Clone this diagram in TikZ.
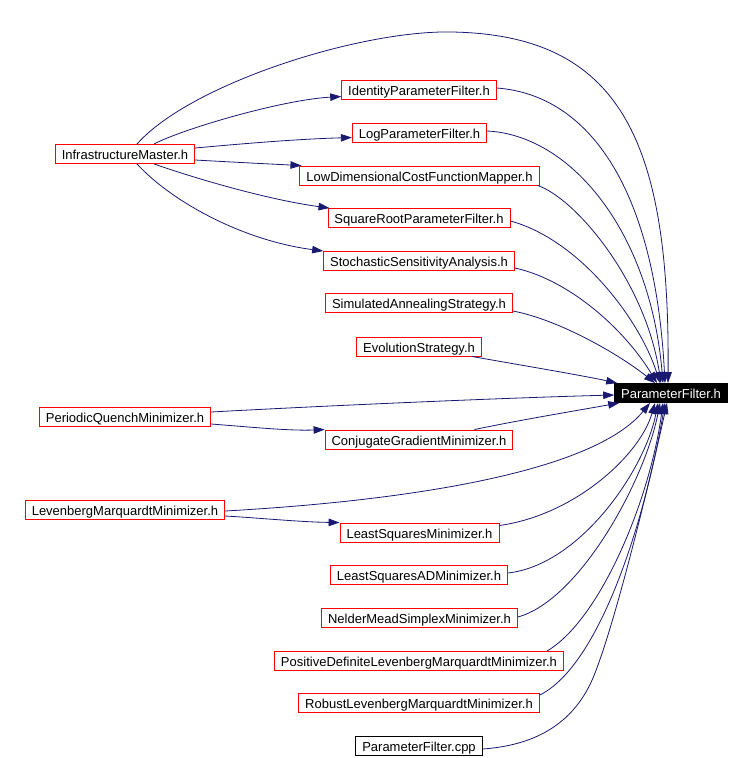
\documentclass[tikz,border=0pt]{standalone}
\usepackage{fontspec}
\setmainfont{Liberation Sans}
\usetikzlibrary{arrows.meta}
\definecolor{edgeblue}{HTML}{191970}
\begin{document}
\begin{tikzpicture}[x=1pt,y=-1pt,
  file/.style={draw=red, line width=0.9pt, fill=white, minimum height=19pt, inner xsep=6.5pt, inner ysep=0pt, text height=11.2pt, text depth=0pt, font=\fontsize{13}{15}\selectfont, anchor=center},
  plainfile/.style={file, draw=black},
  focus/.style={file, draw=black, fill=black, text=white},
  dep/.style={draw=edgeblue, line width=0.8pt, -{Triangle[length=11pt,width=7.5pt]}}]
\useasboundingbox (0,0) rectangle (750,758);
% nodes
\node[file] (IM) at (125,154) {InfrastructureMaster.h};
\node[file] (IPF) at (419,89.5) {IdentityParameterFilter.h};
\node[file] (LPF) at (419.5,132.5) {LogParameterFilter.h};
\node[file] (LDC) at (419.5,175.5) {LowDimensionalCostFunctionMapper.h};
\node[file] (SRP) at (419,218) {SquareRootParameterFilter.h};
\node[file] (SSA) at (419,261) {StochasticSensitivityAnalysis.h};
\node[file] (SAS) at (419,303) {SimulatedAnnealingStrategy.h};
\node[file] (ES) at (419,346.5) {EvolutionStrategy.h};
\node[focus] (PF) at (671,393) {ParameterFilter.h};
\node[file] (PQM) at (125,417) {PeriodicQuenchMinimizer.h};
\node[file] (CGM) at (419,439.5) {ConjugateGradientMinimizer.h};
\node[file] (LMM) at (125,510) {LevenbergMarquardtMinimizer.h};
\node[file] (LSM) at (419.5,532.5) {LeastSquaresMinimizer.h};
\node[file] (LSAD) at (419,575) {LeastSquaresADMinimizer.h};
\node[file] (NMS) at (419.5,617.5) {NelderMeadSimplexMinimizer.h};
\node[file] (PDLMM) at (419,661) {PositiveDefiniteLevenbergMarquardtMinimizer.h};
\node[file] (RLMM) at (419,703) {RobustLevenbergMarquardtMinimizer.h};
\node[plainfile] (PFcpp) at (419,746) {ParameterFilter.cpp};
% edges from InfrastructureMaster
\draw[dep] ([xshift=29pt]IM.north) .. controls (180,130) and (280,100) .. ([yshift=-7pt]IPF.west);
\draw[dep] ([yshift=6pt]IM.east) .. controls (250,143) and (300,139) .. ([yshift=-5pt]LPF.west);
\draw[dep] ([yshift=-6pt]IM.east) .. controls (230,162) and (270,164) .. ([xshift=2pt]LDC.north west);
\draw[dep] ([xshift=29pt]IM.south) .. controls (200,180) and (270,200) .. ([xshift=2pt]SRP.north west);
\draw[dep] ([xshift=12pt]IM.south) .. controls (170,200) and (240,240) .. (SSA.north west);
\draw[dep] ([xshift=12pt]IM.north) .. controls (190,84) and (360,30) .. (452,32) .. controls (620,35) and (670,140) .. ([xshift=-3pt]PF.north);
% edges into ParameterFilter.h from above
\draw[dep] ([yshift=1.5pt]IPF.east) .. controls (590,95) and (655,190) .. ([xshift=-6pt]PF.north);
\draw[dep] ([yshift=1.5pt]LPF.east) .. controls (570,135) and (650,230) .. ([xshift=-8pt]PF.north);
\draw[dep] ([xshift=-2pt]LDC.south east) .. controls (575,198) and (645,280) .. ([xshift=-10pt]PF.north);
\draw[dep] ([yshift=-3pt]SRP.east) .. controls (580,240) and (640,320) .. ([xshift=-11pt]PF.north);
\draw[dep] ([yshift=-7pt]SSA.east) .. controls (570,280) and (625,330) .. ([xshift=-14pt]PF.north);
\draw[dep] ([yshift=-8pt]SAS.east) .. controls (560,320) and (620,355) .. ([xshift=-16pt]PF.north);
\draw[dep] ([xshift=-10pt]ES.south east) .. controls (520,365) and (580,375) .. ([xshift=3pt]PF.north west);
% middle
\draw[dep] ([yshift=5pt]PQM.east) .. controls (320,406) and (500,398) .. ([yshift=-2pt]PF.west);
\draw[dep] ([yshift=-7pt]PQM.east) .. controls (250,427) and (290,431) .. (CGM.north west);
\draw[dep] ([xshift=-39pt]CGM.north east) .. controls (520,420) and (580,410) .. ([xshift=5pt]PF.south west);
\draw[dep] ([yshift=-1pt]LMM.east) .. controls (420,500) and (595,470) .. ([xshift=-21pt]PF.south);
\draw[dep] ([yshift=-6pt]LMM.east) .. controls (260,518) and (300,522) .. (LSM.north west);
% edges into ParameterFilter.h from below
\draw[dep] ([yshift=7pt]LSM.east) .. controls (575,515) and (640,455) .. ([xshift=-16pt]PF.south);
\draw[dep] ([yshift=2pt]LSAD.east) .. controls (580,565) and (645,470) .. ([xshift=-13pt]PF.south);
\draw[dep] ([yshift=0.5pt]NMS.east) .. controls (580,600) and (645,480) .. ([xshift=-11pt]PF.south);
\draw[dep] ([xshift=-17pt]PDLMM.north east) .. controls (600,620) and (650,500) .. ([xshift=-8pt]PF.south);
\draw[dep] ([yshift=-2pt]RLMM.north east) .. controls (600,665) and (645,520) .. ([xshift=-6pt]PF.south);
\draw[dep] ([yshift=-3pt]PFcpp.east) .. controls (540,745) and (575,720) .. (593,678) .. controls (615,625) and (650,480) .. ([xshift=-4pt]PF.south);
\end{tikzpicture}
\end{document}
